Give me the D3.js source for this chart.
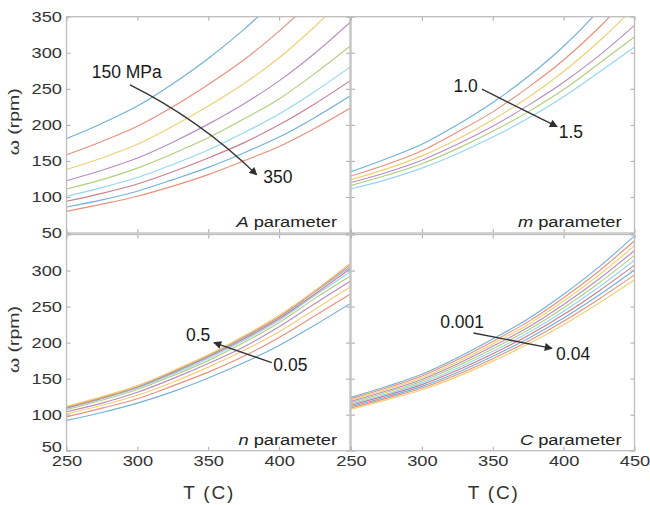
<!DOCTYPE html>
<html>
<head>
<meta charset="utf-8">
<script src="https://cdn.jsdelivr.net/npm/d3@7"></script>
<style>
  body { margin: 0; background: #fff; }
  svg { display: block; }
  text { font-family: "Liberation Sans", Arial, sans-serif; }
</style>
</head>
<body>
<svg id="chart" width="650" height="505"></svg>
<script>
// Temperatures (°C) at which every curve is sampled
const temps = [250, 275, 300, 325, 350, 375, 400, 425, 450];

// Rotational speed ω (rpm) for each value of A (150 → 350 MPa)
const seriesA = [
  [181, 202, 226, 257, 292, 332, 378, 430, 490],
  [158.5, 177, 198, 225, 256, 290, 330, 376, 430],
  [138, 154, 173, 198, 226, 257, 293, 336, 384],
  [122.5, 137, 154, 176, 201, 229, 261, 299, 342],
  [111, 124, 140, 160, 182, 208, 236, 271, 309],
  [101, 113, 127, 145, 165, 189, 215, 246, 280],
  [94, 105, 118, 135, 154, 175, 200, 229, 261],
  [86, 96, 108, 124, 141, 161, 183, 210, 240],
  [80, 90, 101, 115, 131, 150, 170, 195, 223]
];

// ω for each value of m (1.0 → 1.5)
const seriesM = [
  [135, 153, 173, 200, 231, 267, 309, 359, 416],
  [129, 145, 164, 190, 218, 252, 290, 335, 387],
  [124, 139, 157, 180, 207, 238, 274, 316, 363],
  [120, 134, 151, 173, 198, 227, 259, 296, 338],
  [116, 130, 146, 167, 191, 218, 249, 285, 322],
  [111, 124, 140, 160, 183, 209, 239, 273, 308]
];

// ω for each value of n (0.05 → 0.5)
const seriesN = [
  [92, 103, 116, 132, 151, 172, 196, 224, 254],
  [97, 109, 122, 140, 159, 181, 207, 237, 267],
  [101, 113, 127, 145, 166, 189, 215, 246, 277],
  [104, 116, 131, 150, 171, 194, 222, 254, 285],
  [107, 120, 135, 154, 175, 200, 228, 261, 292],
  [108.5, 122, 137, 156, 178, 203, 231, 265, 298],
  [109.5, 123, 138, 158, 180, 205, 233, 267, 302],
  [110.5, 124, 139, 159, 181, 207, 235, 270, 305],
  [111, 124, 140, 160, 182, 208, 236, 271, 308],
  [111.5, 125, 140, 161, 183, 209, 238, 272, 310]
];

// ω for each value of C (0.001 → 0.04)
const seriesC = [
  [124, 139, 156, 179, 205, 233, 267, 305, 348],
  [122.2, 136.9, 153.6, 176.1, 201.6, 229.1, 262.3, 299.4, 341.3],
  [120.4, 134.9, 151.2, 173.2, 198.2, 225.2, 257.6, 293.9, 334.5],
  [118.5, 132.8, 148.8, 170.3, 194.8, 221.3, 253, 288.3, 327.8],
  [116.7, 130.8, 146.4, 167.4, 191.4, 217.4, 248.3, 282.8, 321],
  [114.9, 128.7, 144.1, 164.4, 187.9, 213.6, 243.6, 277.2, 314.3],
  [113.1, 126.7, 141.7, 161.5, 184.5, 209.7, 238.9, 271.7, 307.5],
  [111.2, 124.6, 139.3, 158.6, 181.1, 205.8, 234.2, 266.1, 300.8],
  [109.4, 122.6, 136.9, 155.7, 177.7, 201.9, 229.6, 260.6, 294],
  [107.6, 120.5, 134.5, 152.8, 174.3, 198, 224.9, 255, 287.3]
];

// Axis ticks
const xTicks = [250, 300, 350, 400, 450];
const yTicks = [50, 100, 150, 200, 250, 300, 350];

// Panel captions (italic symbol + word)
const panelSymbols = ["A", "m", "n", "C"];
const panelWord = " parameter";

// Arrow annotations in data units: [T, ω]
const annLabelsStart = ["150 MPa", "1.0", "0.5", "0.001"];
const annLabelsEnd = ["350", "1.5", "0.05", "0.04"];
const annStartText = [[267.8, 264.6], [322.3, 246], [334.3, 202.3], [312.9, 220.7]];
const annEndText = [[388.8, 119.2], [396.5, 181.5], [395.9, 160.7], [394.7, 175.6]];
const annArrowFrom = [[294.8, 255.3], [342.4, 249.4], [394.8, 172.2], [336.4, 213.4]];
const annArrowTo = [[384.2, 130.7], [395.4, 197.6], [354, 200], [391.8, 192]];

// Faded MATLAB line colours
const lineColors = ["#73b1db", "#ea907d", "#f2cf72", "#b88dc1", "#b0d07e", "#94d6f3", "#cc7e8d"];

const svg = d3.select("#chart");
const STRETCH = 1.18; // horizontal stretch of the plot lettering

const defs = svg.append("defs");
defs.append("marker")
  .attr("id", "arrowhead")
  .attr("viewBox", "0 0 10 10")
  .attr("refX", 9).attr("refY", 5)
  .attr("markerWidth", 10).attr("markerHeight", 8)
  .attr("markerUnits", "userSpaceOnUse")
  .attr("orient", "auto")
  .append("path")
  .attr("d", "M0,0 L10,5 L0,10 z")
  .attr("fill", "#2e2e2e");

const cols = [{ l: 66.5, r: 350 }, { l: 351, r: 634.5 }];
const rows = [{ t: 16.7, b: 233 }, { t: 234.5, b: 450.7 }];

const panels = [
  { data: seriesA, c: 0, r: 0, bend: 12 },
  { data: seriesM, c: 1, r: 0, bend: 0 },
  { data: seriesN, c: 0, r: 1, bend: 0 },
  { data: seriesC, c: 1, r: 1, bend: 0 }
];

panels.forEach((p, idx) => {
  const col = cols[p.c], row = rows[p.r];
  const x = d3.scaleLinear().domain([250, 450]).range([col.l, col.r]);
  const y = d3.scaleLinear().domain([50, 350]).range([row.b, row.t]);
  const g = svg.append("g");

  const clipId = "clip" + idx;
  defs.append("clipPath").attr("id", clipId)
    .append("rect")
    .attr("x", col.l).attr("y", row.t)
    .attr("width", col.r - col.l).attr("height", row.b - row.t);

  // Curves
  const line = d3.line()
    .x((d, i) => x(temps[i]))
    .y(d => y(d))
    .curve(d3.curveMonotoneX);
  g.append("g").attr("clip-path", `url(#${clipId})`)
    .selectAll("path")
    .data(p.data)
    .join("path")
    .attr("d", line)
    .attr("fill", "none")
    .attr("stroke", (d, i) => lineColors[i % lineColors.length])
    .attr("stroke-width", 1.15);

  // Axes: inward ticks on all four sides
  const showX = p.r === 1;
  const showY = p.c === 0;
  const xFmt = d => (showX && !(p.c === 0 && d === 450)) ? d : "";
  const yFmt = d => (showY && !(p.r === 1 && d === 350)) ? d : "";

  const axB = g.append("g").attr("transform", `translate(0,${row.b})`)
    .call(d3.axisBottom(x).tickValues(xTicks).tickSize(-4).tickPadding(4.5).tickFormat(xFmt));
  const axT = g.append("g").attr("transform", `translate(0,${row.t})`)
    .call(d3.axisTop(x).tickValues(xTicks).tickSize(-4).tickFormat(""));
  const axL = g.append("g").attr("transform", `translate(${col.l},0)`)
    .call(d3.axisLeft(y).tickValues(yTicks).tickSize(-4).tickPadding(3.8).tickFormat(yFmt));
  const axR = g.append("g").attr("transform", `translate(${col.r},0)`)
    .call(d3.axisRight(y).tickValues(yTicks).tickSize(-4).tickFormat(""));

  [axB, axT, axL, axR].forEach(ax => {
    ax.select(".domain").remove();
    ax.selectAll(".tick line").attr("stroke", "#a8a8a8");
    ax.selectAll(".tick text")
      .attr("font-size", 15.5)
      .attr("fill", "#333")
      .attr("font-family", "Liberation Sans, Arial, sans-serif");
  });
  axB.selectAll(".tick text").attr("transform", `scale(${STRETCH},1)`);
  axL.selectAll(".tick text").attr("transform", `scale(${STRETCH},1)`);
  // the lowest ω label sits just above the T labels of the bottom row
  if (p.r === 1) {
    axL.selectAll(".tick").filter(d => d === 50).select("text")
      .attr("transform", `translate(0,-4) scale(${STRETCH},1)`);
  }

  // Frame
  g.append("rect")
    .attr("x", col.l).attr("y", row.t)
    .attr("width", col.r - col.l).attr("height", row.b - row.t)
    .attr("fill", "none").attr("stroke", "#bdbdbd").attr("stroke-width", 1.3);

  // Panel caption
  const cap = g.append("text")
    .attr("transform", `translate(${col.r - 13},${row.b - 6}) scale(${STRETCH},1)`)
    .attr("text-anchor", "end")
    .attr("font-size", 15.5)
    .attr("fill", "#222");
  cap.append("tspan").attr("font-style", "italic").text(panelSymbols[idx]);
  cap.append("tspan").text(panelWord);

  // Annotation arrow
  const [fx, fy] = [x(annArrowFrom[idx][0]), y(annArrowFrom[idx][1])];
  const [tx, ty] = [x(annArrowTo[idx][0]), y(annArrowTo[idx][1])];
  const mx = (fx + tx) / 2, my = (fy + ty) / 2;
  const len = Math.hypot(tx - fx, ty - fy);
  const nx = (ty - fy) / len, ny = -(tx - fx) / len;
  const path = d3.path();
  path.moveTo(fx, fy);
  path.quadraticCurveTo(mx + nx * p.bend, my + ny * p.bend, tx, ty);
  g.append("path")
    .attr("d", path.toString())
    .attr("fill", "none")
    .attr("stroke", "#333")
    .attr("stroke-width", 1.4)
    .attr("marker-end", "url(#arrowhead)");

  g.append("text")
    .attr("x", x(annStartText[idx][0])).attr("y", y(annStartText[idx][1]))
    .attr("font-size", 17.5).attr("fill", "#1a1a1a")
    .text(annLabelsStart[idx]);
  g.append("text")
    .attr("x", x(annEndText[idx][0])).attr("y", y(annEndText[idx][1]))
    .attr("font-size", 17.5).attr("fill", "#1a1a1a")
    .text(annLabelsEnd[idx]);

  // Axis titles
  if (showX) {
    g.append("text")
      .attr("x", (col.l + col.r) / 2).attr("y", 499)
      .attr("text-anchor", "middle")
      .attr("font-size", 19).attr("fill", "#333")
      .attr("textLength", 50).attr("lengthAdjust", "spacing")
      .text("T (C)");
  }
  if (showY) {
    const cy = (row.t + row.b) / 2 - 3;
    g.append("text")
      .attr("transform", `translate(19,${cy}) rotate(-90)`)
      .attr("text-anchor", "middle")
      .attr("font-size", 15).attr("fill", "#333")
      .attr("textLength", 67).attr("lengthAdjust", "spacingAndGlyphs")
      .text("ω (rpm)");
  }
});
</script>
</body>
</html>
